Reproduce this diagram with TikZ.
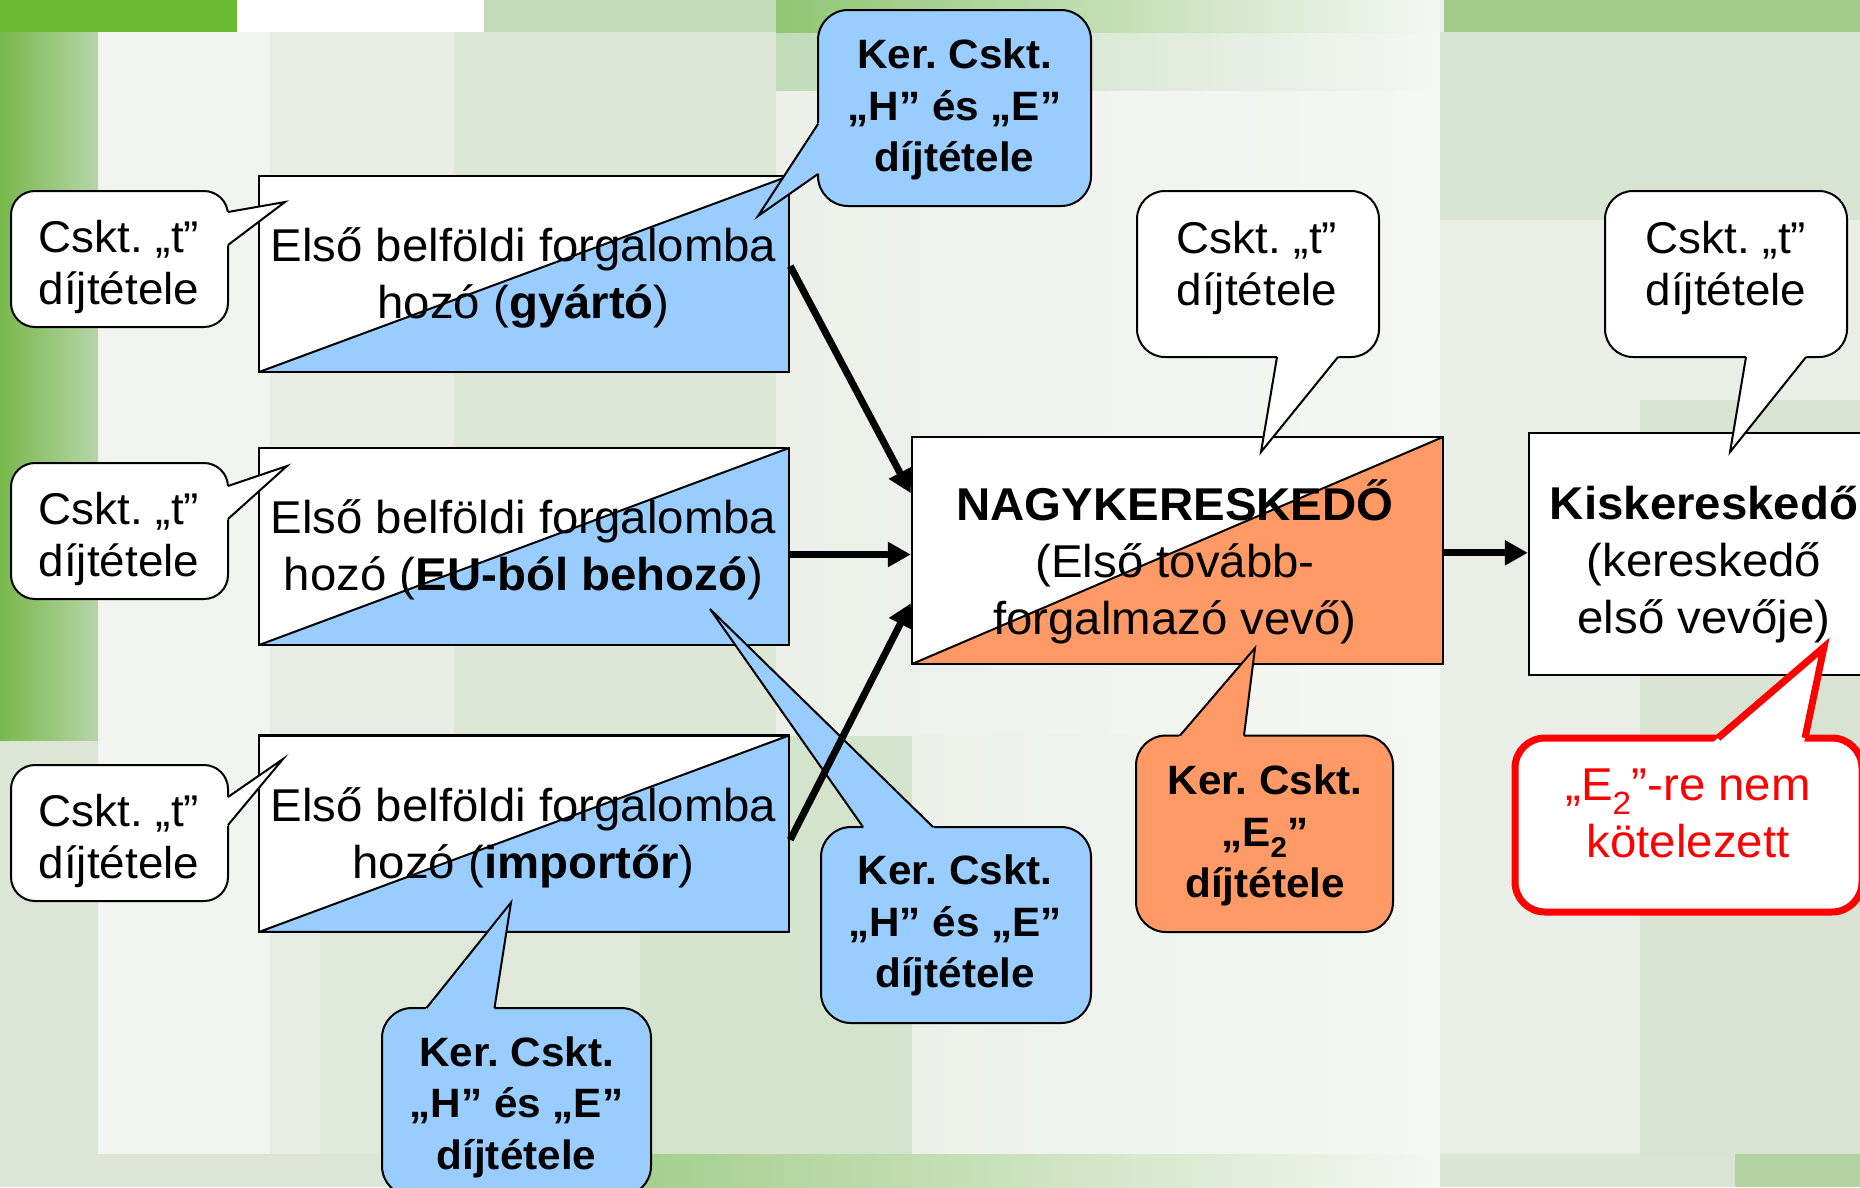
\documentclass[tikz,border=0pt]{standalone}
\usepackage{fontspec}
\setmainfont{Liberation Sans}[FakeStretch=1.03]
\usetikzlibrary{arrows.meta,calc}
\frenchspacing
\definecolor{pblue}{HTML}{99CCFF}
\definecolor{porange}{HTML}{FF9966}
\definecolor{pred}{HTML}{FF0000}
\definecolor{bgbase}{HTML}{ECF0E9}
\definecolor{bgwhite}{HTML}{F2F4F0}
\definecolor{bgmid}{HTML}{E9EDE6}
\definecolor{bgmidgreen}{HTML}{DDE7D6}
\definecolor{bglowmid}{HTML}{E0E8DB}
\definecolor{bggreenA}{HTML}{6CBB33}
\definecolor{bggreenB}{HTML}{C1DBB9}
\definecolor{bggreenC}{HTML}{8FC673}
\definecolor{bggreenD}{HTML}{A3CC8B}
\definecolor{bgleftA}{HTML}{78B84C}
\definecolor{bgleftB}{HTML}{B8D5AA}
\definecolor{bgleftC}{HTML}{DCE6D7}
\definecolor{bgrightA}{HTML}{D9E5D3}
\definecolor{bgrightB}{HTML}{E9EEE6}
\definecolor{bgrightC}{HTML}{D8E4D1}
\definecolor{bgpatch}{HTML}{D4E3CB}
\definecolor{bgfade}{HTML}{F5F7F4}
\definecolor{bgbotA}{HTML}{DDE5D8}
\definecolor{bgbotB}{HTML}{A5CF8E}
\definecolor{bgbotC}{HTML}{DCE4D6}
\definecolor{bgbotD}{HTML}{B3D4A0}
\newcommand{\boxfnt}{\fontsize{46}{57}\selectfont}
\newcommand{\calfnt}{\fontsize{44.5}{52}\selectfont}
\newcommand{\kerfnt}{\fontsize{41}{51.5}\selectfont\bfseries}
\newcommand{\calloutptr}[5]{%
  \fill[#1] ($(#3)!-7pt!(#4)$) -- (#4) -- ($(#5)!-7pt!(#4)$) -- cycle;
  \draw[#2] (#3) -- (#4) -- (#5);}
\tikzset{
  box/.style={rectangle, draw=black, line width=2.5pt, fill=white, inner sep=0pt},
  half/.style={path picture={\fill[#1, draw=black, line width=2pt]
      (path picture bounding box.south west) -- (path picture bounding box.north east)
      -- (path picture bounding box.south east) -- cycle;}},
  txt/.style={inner sep=0pt, align=center, font=\boxfnt},
  ctxt/.style={inner sep=0pt, align=center, font=\calfnt},
  ktxt/.style={inner sep=0pt, align=center, font=\kerfnt},
  cw/.style={rectangle, rounded corners=24pt, draw=black, line width=2pt, fill=white, inner sep=0pt},
  cwt/.style={cw, rounded corners=28pt},
  cb/.style={rectangle, rounded corners=30pt, draw=black, line width=2pt, fill=pblue, inner sep=0pt},
  co/.style={rectangle, rounded corners=30pt, draw=black, line width=2pt, fill=porange, inner sep=0pt},
  cr/.style={rectangle, rounded corners=30pt, draw=pred, line width=7pt, fill=white, inner sep=0pt},
  thinline/.style={draw=black, line width=2pt},
  redline/.style={draw=pred, line width=7pt},
  arr/.style={line width=7pt, -{Triangle[length=23pt,width=24pt]}},
}
\begin{document}
\begin{tikzpicture}[x=1pt, y=-1pt]
\useasboundingbox (0,0) rectangle (1860,1187);
\clip (0,0) rectangle (1860,1187);
% ---------- background ----------
\fill[bgbase] (0,0) rectangle (1860,1187);
\fill[bgwhite] (98,32) rectangle (270,1154);
\fill[bgmid] (270,32) rectangle (454,1154);
\fill[bgmidgreen] (454,32) rectangle (776,735);
\fill[bglowmid] (320,735) rectangle (640,1154);
\fill[bgpatch] (640,735) rectangle (912,1154);
\shade[left color=bgbase, right color=bgfade] (776,90) rectangle (1440,735);
\shade[left color=bgbase, right color=bgfade] (912,735) rectangle (1440,1154);
\shade[left color=bggreenB, right color=bgfade] (776,32) rectangle (1440,90);
\fill[bgrightA] (1440,32) rectangle (1860,220);
\fill[bgrightB] (1440,220) rectangle (1860,1154);
\fill[bgrightC] (1640,400) rectangle (1860,1154);
\shade[left color=bgleftA, right color=bgleftB] (0,32) rectangle (98,741);
\fill[bgleftC] (0,741) rectangle (98,1154);
\fill[bggreenA] (0,0) rectangle (237,32);
\fill[white] (237,0) rectangle (484,32);
\fill[bggreenB] (484,0) rectangle (776,32);
\shade[left color=bggreenC, middle color=bggreenC!70!white, right color=bgfade] (776,0) rectangle (1440,32);
\fill[bggreenD] (1444,0) rectangle (1860,32);
\fill[bgbotA] (0,1154) rectangle (640,1187);
\shade[left color=bgbotB, right color=bgfade] (640,1154) rectangle (1440,1187);
\fill[bgbotC] (1440,1154) rectangle (1735,1187);
\fill[bgbotD] (1735,1154) rectangle (1860,1187);
% ---------- main boxes ----------
\node[box, half=pblue, minimum width=530pt, minimum height=196pt] (gyarto) at (524,274) {};
\node[txt] (gyartot) at (523.5,278.7) {\strut Első belföldi forgalomba\\hozó (\textbf{gyártó})\strut};
\node[box, half=pblue, minimum width=530pt, minimum height=197pt] (eu) at (524,546.5) {};
\node[txt] (eut) at (523.5,550.7) {\strut Első belföldi forgalomba\\hozó (\textbf{EU-ból behozó})\strut};
\node[box, half=pblue, minimum width=530pt, minimum height=196.5pt] (imp) at (524,833.7) {};
\node[txt] (impt) at (523.5,838.2) {\strut Első belföldi forgalomba\\hozó (\textbf{importőr})\strut};
\node[box, half=porange, minimum width=531pt, minimum height=227pt] (nagy) at (1177.5,550.5) {};
\node[txt] (nagyt) at (1175,565.6) {\strut\textbf{NAGYKERESKEDŐ}\\(Első tovább-\\forgalmazó vevő)\strut};
\node[box, minimum width=350pt, minimum height=242pt] (kisker) at (1704,554) {};
\node[txt] (kiskert) at (1704,565) {\strut\textbf{Kiskereskedő}\\(kereskedő\\első vevője)\strut};
% ---------- left callouts ----------
\node[cw, minimum width=217pt, minimum height=136pt] (c1) at (119.5,259) {};
\coordinate (c1a) at (228,212); \coordinate (c1tip) at (285,202); \coordinate (c1b) at (228,245);
\calloutptr{white}{thinline}{c1a}{c1tip}{c1b}
\node[ctxt] (c1t) at (119,268) {\strut Cskt. „t”\\díjtétele\strut};
\node[cw, minimum width=217pt, minimum height=136pt] (c2) at (119.5,531) {};
\coordinate (c2a) at (228,486); \coordinate (c2tip) at (287,466); \coordinate (c2b) at (228,519);
\calloutptr{white}{thinline}{c2a}{c2tip}{c2b}
\node[ctxt] (c2t) at (119,540) {\strut Cskt. „t”\\díjtétele\strut};
\node[cw, minimum width=217pt, minimum height=136pt] (c3) at (119.5,833) {};
\coordinate (c3a) at (228,797); \coordinate (c3tip) at (283,759); \coordinate (c3b) at (228,825);
\calloutptr{white}{thinline}{c3a}{c3tip}{c3b}
\node[ctxt] (c3t) at (119,842.5) {\strut Cskt. „t”\\díjtétele\strut};
% ---------- top white callouts ----------
\node[cwt, minimum width=242pt, minimum height=166pt] (c4) at (1258,274) {};
\coordinate (c4a) at (1277,357); \coordinate (c4tip) at (1261,452); \coordinate (c4b) at (1338,357);
\calloutptr{white}{thinline}{c4a}{c4tip}{c4b}
\node[ctxt] (c4t) at (1257,268.7) {\strut Cskt. „t”\\díjtétele\strut};
\node[cwt, minimum width=242pt, minimum height=166pt] (c5) at (1726,274) {};
\coordinate (c5a) at (1746,357); \coordinate (c5tip) at (1730,452); \coordinate (c5b) at (1806,357);
\calloutptr{white}{thinline}{c5a}{c5tip}{c5b}
\node[ctxt] (c5t) at (1726,268.7) {\strut Cskt. „t”\\díjtétele\strut};
% ---------- blue callouts ----------
\node[cb, minimum width=273pt, minimum height=196pt] (k1) at (954.5,108) {};
\coordinate (k1a) at (818,124); \coordinate (k1tip) at (758,216); \coordinate (k1b) at (818,174);
\calloutptr{pblue}{thinline}{k1a}{k1tip}{k1b}
\node[ktxt] (k1t) at (954.5,110) {\strut Ker. Cskt.\\„H” és „E”\\díjtétele\strut};
\node[cb, minimum width=270pt, minimum height=196pt] (k2) at (956,925) {};
\coordinate (k2a) at (863,827); \coordinate (k2tip) at (710,609); \coordinate (k2b) at (933,827);
\calloutptr{pblue}{thinline}{k2a}{k2tip}{k2b}
\node[ktxt] (k2t) at (955,926) {\strut Ker. Cskt.\\„H” és „E”\\díjtétele\strut};
\node[cb, minimum width=269pt, minimum height=188pt] (k3) at (516.5,1102) {};
\coordinate (k3a) at (426.5,1008); \coordinate (k3tip) at (511,902.5); \coordinate (k3b) at (494.5,1008);
\calloutptr{pblue}{thinline}{k3a}{k3tip}{k3b}
\node[ktxt] (k3t) at (516.5,1107.5) {\strut Ker. Cskt.\\„H” és „E”\\díjtétele\strut};
% ---------- orange callout ----------
\node[co, minimum width=257pt, minimum height=196.5pt] (o1) at (1264.5,833.75) {};
\coordinate (o1a) at (1180,735.5); \coordinate (o1tip) at (1255,648); \coordinate (o1b) at (1244,735.5);
\calloutptr{porange}{thinline}{o1a}{o1tip}{o1b}
\node[ktxt] (o1t) at (1265,836) {\strut Ker. Cskt.\\„E\textsubscript{2}”\\díjtétele\strut};
% ---------- red callout ----------
\node[cr, minimum width=347pt, minimum height=174pt] (r1) at (1688.5,825) {};
\coordinate (r1a) at (1718,738); \coordinate (r1tip) at (1824,647); \coordinate (r1b) at (1805,738);
\calloutptr{white}{redline}{r1a}{r1tip}{r1b}
\node[txt, text=pred] (r1t) at (1688,818) {\strut„E\textsubscript{2}”-re nem\\kötelezett\strut};
% ---------- arrows ----------
\draw[arr] ($(gyarto.north east)!0.46!(gyarto.south east)$) -- ($(nagy.north west)!0.25!(nagy.south west)$);
\coordinate (a2s) at ($(eu.north east)!0.54!(eu.south east)$);
\draw[arr] (a2s) -- (a2s -| nagy.west);
\draw[arr] ($(imp.north east)!0.53!(imp.south east)$) -- ($(nagy.north west)!0.73!(nagy.south west)$);
\coordinate (a4s) at ($(nagy.north east)!0.51!(nagy.south east)$);
\draw[arr] (a4s) -- (a4s -| kisker.west);
\end{tikzpicture}
\end{document}
